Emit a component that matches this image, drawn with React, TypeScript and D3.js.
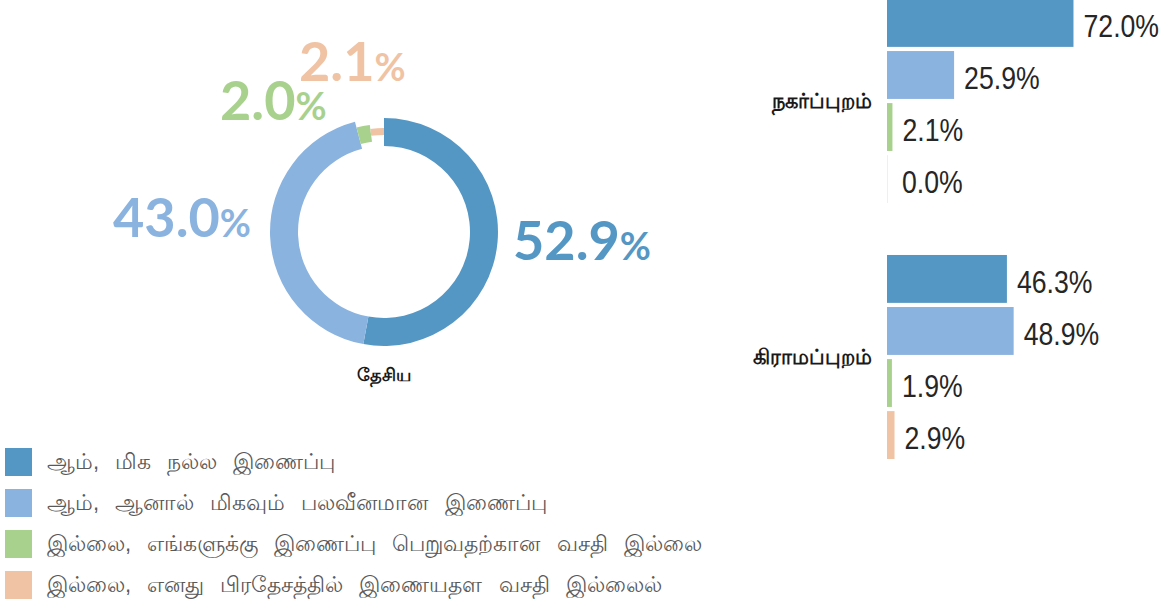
import React from "react";
import * as d3 from "d3";

const seriesNames = [
  "ஆம், மிக நல்ல இணைப்பு",
  "ஆம், ஆனால் மிகவும் பலவீனமான இணைப்பு",
  "இல்லை, எங்களுக்கு இணைப்பு பெறுவதற்கான வசதி இல்லை",
  "இல்லை, எனது பிரதேசத்தில் இணையதள வசதி இல்லைல்",
];
const colors = ["#5597c4", "#8ab3df", "#a9d18e", "#efc3a4"];

const nationalLabel = "தேசிய";
const nationalValues = [52.9, 43.0, 2.0, 2.1];

const groups = ["நகர்ப்புறம்", "கிராமப்புறம்"];
const urbanValues = [72.0, 25.9, 2.1, 0.0];
const ruralValues = [46.3, 48.9, 1.9, 2.9];

// layout / style (not data)
const W = 1166;
const H = 601;
const CX = 384;
const CY = 232;
const ringRadii = [
  [86, 114],
  [86, 114],
  [91, 108],
  [97, 104],
];
const donutLabelLayout = [
  { x: 513, y: 260 },
  { x: 113, y: 237 },
  { x: 220, y: 120 },
  { x: 299, y: 81 },
];

export default function App() {
  const pie = d3
    .pie<number>()
    .sort(null)
    .value((d) => d)(nationalValues);

  const x = d3.scaleLinear().domain([0, 100]).range([887, 1146]);
  const yGroup = d3.scaleBand<string>().domain(groups).range([-1, 459]).paddingInner(0.203);
  const ySeries = d3
    .scaleBand<number>()
    .domain(d3.range(seriesNames.length))
    .range([0, yGroup.bandwidth()])
    .paddingInner(0.08);

  const groupValues = [urbanValues, ruralValues];
  const legendY = d3.scaleLinear().domain([0, 1]).range([448, 489]);

  return (
    <svg
      width={W}
      height={H}
      style={{ position: "absolute", left: 0, top: 0, background: "#fff" }}
    >
      {/* donut */}
      <g transform={`translate(${CX},${CY})`}>
        {pie.map((p, i) => {
          const arc = d3
            .arc<d3.PieArcDatum<number>>()
            .innerRadius(ringRadii[i][0])
            .outerRadius(ringRadii[i][1]);
          return <path key={i} d={arc(p) || ""} fill={colors[i]} />;
        })}
      </g>
      {nationalValues.map((v, i) => {
        const L = donutLabelLayout[i];
        return (
          <text
            key={i}
            x={L.x}
            y={L.y}
            fill={colors[i]}
            fontFamily="Lato, 'Open Sans', sans-serif"
            fontWeight={700}
            fontSize={54}
          >
            {v.toFixed(1)}
            <tspan fontSize={38}>%</tspan>
          </text>
        );
      })}
      <text
        x={CX}
        y={381}
        textAnchor="middle"
        fontFamily="serif"
        fontWeight={700}
        fontSize={18}
        fill="#1a1a1a"
      >
        {nationalLabel}
      </text>

      {/* bars */}
      {groups.map((g, gi) => {
        const y0 = yGroup(g)!;
        return (
          <g key={g}>
            <text
              x={872}
              y={y0 + yGroup.bandwidth() / 2}
              textAnchor="end"
              dominantBaseline="central"
              fontFamily="serif"
              fontWeight={700}
              fontSize={21}
              fill="#1a1a1a"
            >
              {g}
            </text>
            {groupValues[gi].map((v, si) => {
              const yy = y0 + ySeries(si)!;
              const bw = ySeries.bandwidth();
              const xe = x(v);
              const lx = Math.max(xe + 10, 902);
              const ly = yy + bw / 2 + 14;
              return (
                <g key={si}>
                  <rect
                    x={x(0)}
                    y={yy}
                    width={Math.max(xe - x(0), v === 0 ? 0.8 : 0)}
                    height={bw}
                    fill={colors[si]}
                    opacity={v === 0 ? 0.4 : 1}
                  />
                  <text
                    transform={`translate(${lx},${ly}) scale(0.86,1)`}
                    fontFamily="'Liberation Sans', Arial, sans-serif"
                    fontSize={31}
                    fill="#262626"
                  >
                    {v.toFixed(1)}%
                  </text>
                </g>
              );
            })}
          </g>
        );
      })}

      {/* legend */}
      {seriesNames.map((name, i) => {
        const ly = legendY(i);
        return (
          <g key={i}>
            <rect x={5} y={ly} width={27} height={28} fill={colors[i]} />
            <text
              x={47}
              y={ly + 13}
              dominantBaseline="central"
              fontFamily="sans-serif"
              fontSize={22}
              wordSpacing={10}
              fill="#595959"
            >
              {name}
            </text>
          </g>
        );
      })}
    </svg>
  );
}
